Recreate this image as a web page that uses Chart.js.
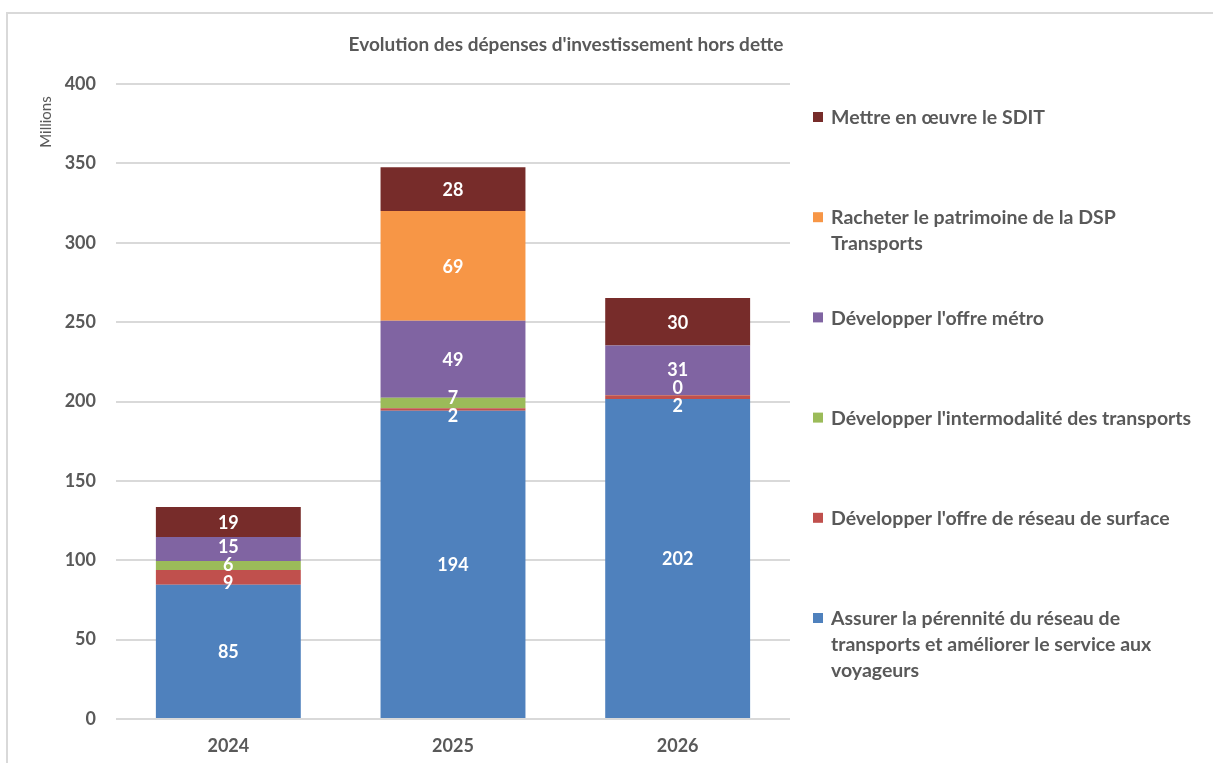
<!DOCTYPE html>
<html>
<head>
<meta charset="utf-8">
<script src="https://cdn.jsdelivr.net/npm/chart.js@4.4.1/dist/chart.umd.min.js"></script>
<style>
  html, body { margin: 0; padding: 0; background: #fff; overflow: hidden; }
  #frame { position: absolute; left: 6px; top: 12px; width: 1300px; height: 900px; border: 2px solid #d9d9d9; }
  #myChart { position: absolute; left: 0; top: 0; }
</style>
</head>
<body>
<div id="frame"></div>
<canvas id="myChart" width="1213" height="763"></canvas>
<script>
(() => {
  'use strict'

  // Data (millions), labels show rounded values
  const years = ['2024', '2025', '2026']
  const perennite = [84.6, 194.1, 201.6]
  const reseauSurface = [9.3, 1.6, 2.3]
  const intermodalite = [5.6, 6.6, 0.2]
  const metro = [15.2, 48.5, 31.1]
  const rachatDSP = [null, 69.2, null]
  const sdit = [18.8, 27.6, 30]
  const yTicks = [0, 50, 100, 150, 200, 250, 300, 350, 400]

  const title = "Evolution des dépenses d'investissement hors dette"
  const unitLabel = 'Millions'

  const grey = '#595959'
  const font = 'Lato, "Open Sans", sans-serif'

  // custom data labels, pushed apart when they overlap (like Excel does)
  const valueLabels = {
    id: 'valueLabels',
    afterDatasetsDraw (chart) {
      const ctx = chart.ctx
      const minGap = 18
      ctx.save()
      ctx.font = 'bold 18px ' + font
      ctx.fillStyle = '#fff'
      ctx.textAlign = 'center'
      ctx.textBaseline = 'middle'
      years.forEach((y, i) => {
        const items = []
        chart.data.datasets.forEach((ds, d) => {
          const v = ds.data[i]
          if (v === null) return
          const el = chart.getDatasetMeta(d).data[i]
          items.push({ v, x: el.x, y: (el.y + el.base) / 2 })
        })
        items.sort((a, b) => a.y - b.y)
        for (let n = 0; n < 50; n++) {
          for (let k = 0; k < items.length - 1; k++) {
            const gap = items[k + 1].y - items[k].y
            if (gap < minGap) {
              const shift = (minGap - gap) / 2
              items[k].y -= shift
              items[k + 1].y += shift
            }
          }
        }
        items.forEach(it => ctx.fillText(String(Math.round(it.v)), it.x, it.y + 1))
      })
      ctx.restore()
    }
  }

  // title, unit label and right side legend
  const decorations = {
    id: 'decorations',
    afterDraw (chart) {
      const ctx = chart.ctx
      ctx.save()
      ctx.fillStyle = grey
      ctx.textBaseline = 'middle'

      ctx.font = 'bold 19px ' + font
      ctx.textAlign = 'center'
      ctx.fillText(title, 566, 45)

      ctx.save()
      ctx.translate(46, 122)
      ctx.rotate(-Math.PI / 2)
      ctx.font = '15px ' + font
      ctx.fillText(unitLabel, 0, 0)
      ctx.restore()

      ctx.font = 'bold 19.5px ' + font
      ctx.textAlign = 'left'
      const sets = chart.data.datasets.slice().reverse()
      sets.forEach((ds, i) => {
        const top = 117 + i * 100.2
        ctx.fillStyle = ds.backgroundColor
        ctx.fillRect(813, top - 5, 10, 10)
        ctx.fillStyle = grey
        const lines = Array.isArray(ds.label) ? ds.label : [ds.label]
        lines.forEach((line, j) => ctx.fillText(line, 831, top + 1 + j * 26))
      })
      ctx.restore()
    }
  }

  const ctx = document.getElementById('myChart')
  // eslint-disable-next-line no-unused-vars
  const myChart = new Chart(ctx, {
    type: 'bar',
    data: {
      labels: years,
      datasets: [
        { label: ['Assurer la pérennité du réseau de', 'transports et améliorer le service aux', 'voyageurs'], data: perennite, backgroundColor: '#4f81bd' },
        { label: "Développer l'offre de réseau de surface", data: reseauSurface, backgroundColor: '#c0504d' },
        { label: "Développer l'intermodalité des transports", data: intermodalite, backgroundColor: '#9bbb59' },
        { label: "Développer l'offre métro", data: metro, backgroundColor: '#8064a2' },
        { label: ['Racheter le patrimoine de la DSP', 'Transports'], data: rachatDSP, backgroundColor: '#f79646' },
        { label: 'Mettre en œuvre le SDIT', data: sdit, backgroundColor: '#772c2a' }
      ]
    },
    options: {
      responsive: false,
      animation: false,
      devicePixelRatio: 1,
      layout: { padding: { top: 84, right: 423, bottom: 0, left: 0 } },
      datasets: { bar: { categoryPercentage: 1, barPercentage: 0.645, borderWidth: 0 } },
      scales: {
        x: {
          stacked: true,
          grid: { display: false, drawTicks: false },
          border: { display: false },
          ticks: { color: grey, padding: 16, font: { family: font, size: 18, weight: 'bold' } },
          afterFit (s) { s.height = 44 }
        },
        y: {
          stacked: true,
          min: 0,
          max: 400,
          afterBuildTicks (s) { s.ticks = yTicks.map(v => ({ value: v })) },
          grid: { color: '#d9d9d9', lineWidth: 2, drawTicks: false },
          border: { display: false },
          ticks: { color: grey, padding: 20, font: { family: font, size: 18, weight: 'bold' } },
          afterFit (s) { s.width = 116 }
        }
      },
      plugins: {
        legend: { display: false },
        title: { display: false },
        tooltip: { enabled: false }
      }
    },
    plugins: [valueLabels, decorations]
  })
})()
</script>
</body>
</html>
